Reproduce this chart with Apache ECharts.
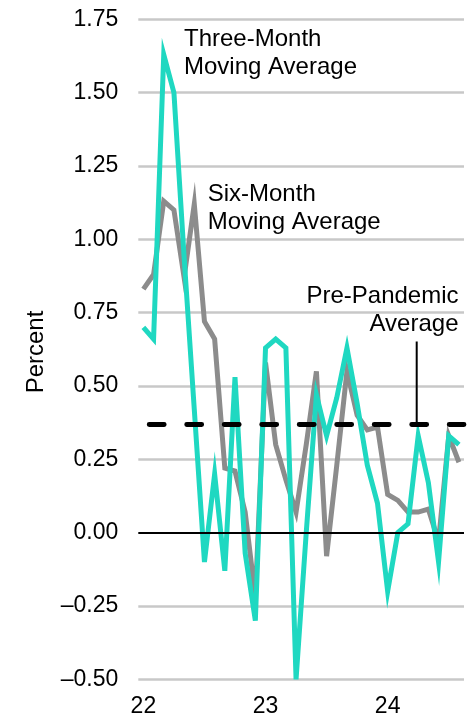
<!DOCTYPE html>
<html>
<head>
<meta charset="utf-8">
<script src="https://cdn.jsdelivr.net/npm/echarts@6/dist/echarts.min.js"></script>
<style>
  html, body { margin: 0; padding: 0; background: #fff; }
  #chart { width: 474px; height: 717px; }
</style>
</head>
<body>
<div id="chart"></div>
<script>
// ---- Data ----
const months = [
  '2022-01','2022-02','2022-03','2022-04','2022-05','2022-06','2022-07','2022-08','2022-09','2022-10','2022-11','2022-12',
  '2023-01','2023-02','2023-03','2023-04','2023-05','2023-06','2023-07','2023-08','2023-09','2023-10','2023-11','2023-12',
  '2024-01','2024-02','2024-03','2024-04','2024-05','2024-06','2024-07','2024-08'
];
const threeMonth = [
  0.70, 0.66, 1.63, 1.50, 0.94, 0.42, -0.10, 0.20, -0.13, 0.53, -0.07, -0.30,
  0.63, 0.66, 0.63, -0.50, 0.00, 0.47, 0.33, 0.46, 0.63, 0.44, 0.23, 0.10,
  -0.20, 0.00, 0.03, 0.33, 0.17, -0.10, 0.33, 0.30
];
const sixMonth = [
  0.83, 0.88, 1.13, 1.10, 0.87, 1.12, 0.72, 0.66, 0.22, 0.21, 0.07, -0.22,
  0.58, 0.30, 0.18, 0.07, 0.30, 0.55, -0.08, 0.23, 0.55, 0.40, 0.35, 0.36,
  0.13, 0.11, 0.07, 0.07, 0.08, -0.03, 0.33, 0.24
];
const prePandemicAvg = 0.37;
const yearLabels = { '2022-01': '22', '2023-01': '23', '2024-01': '24' };
const yTickLabels = ['\u20130.50', '\u20130.25', '0.00', '0.25', '0.50', '0.75', '1.00', '1.25', '1.50', '1.75'];
const yMin = -0.5, yMax = 1.75, yStep = 0.25;

// ---- Style ----
const FONT = 'Liberation Sans, Arial, Helvetica, sans-serif';
const TEAL = '#1fd8c1';
const GREY = '#8c8c8c';

const chart = echarts.init(document.getElementById('chart'), null, { renderer: 'canvas' });

const option = {
  animation: false,
  backgroundColor: '#fff',
  grid: { left: 138.3, right: 10, top: 19.3, bottom: 37.7, containLabel: false, outerBoundsMode: 'none' },
  xAxis: {
    type: 'category',
    data: months,
    boundaryGap: true,
    axisLine: { show: false },
    axisTick: { show: false },
    splitLine: { show: false },
    axisLabel: {
      interval: (i, v) => !!yearLabels[v],
      formatter: v => yearLabels[v] || '',
      color: '#000',
      fontFamily: FONT,
      fontSize: 23,
      margin: 16
    }
  },
  yAxis: {
    type: 'value',
    min: yMin, max: yMax, interval: yStep,
    axisLine: { show: false },
    axisTick: { show: false },
    axisLabel: {
      formatter: v => yTickLabels[Math.round((v - yMin) / yStep)],
      color: '#000',
      fontFamily: FONT,
      fontSize: 23,
      margin: 20
    },
    splitLine: {
      show: true,
      lineStyle: {
        color: ['#c8c8c8', '#c8c8c8', 'rgba(0,0,0,0)', '#c8c8c8', '#c8c8c8', '#c8c8c8', '#c8c8c8', '#c8c8c8', '#c8c8c8', '#c8c8c8'],
        width: 2.5
      }
    }
  },
  series: [
    {
      name: 'zero',
      type: 'line',
      data: [],
      silent: true,
      markLine: {
        silent: true,
        symbol: 'none',
        label: { show: false },
        lineStyle: { color: '#000', width: 1.8, type: 'solid' },
        data: [{ yAxis: 0 }]
      }
    },
    {
      name: 'Six-Month Moving Average',
      type: 'line',
      data: sixMonth,
      symbol: 'none',
      lineStyle: { color: GREY, width: 5, join: 'miter' },
      itemStyle: { color: GREY }
    },
    {
      name: 'Three-Month Moving Average',
      type: 'line',
      data: threeMonth,
      symbol: 'none',
      lineStyle: { color: TEAL, width: 5, join: 'miter' },
      itemStyle: { color: TEAL }
    },
    {
      name: 'Pre-Pandemic Average',
      type: 'line',
      data: [],
      silent: true,
      z: 5,
      markLine: {
        silent: true,
        symbol: 'none',
        label: { show: false },
        lineStyle: { color: '#000', width: 4.8, type: [15, 22.5], dashOffset: 26.6, cap: 'round' },
        data: [{ yAxis: prePandemicAvg }]
      }
    }
  ]
};
chart.setOption(option);

// annotations
const avgY = chart.convertToPixel({ yAxisIndex: 0 }, prePandemicAvg);
const textStyle = (t, align) => ({
  text: t,
  font: '24px ' + FONT,
  fill: '#000',
  textAlign: align,
  textVerticalAlign: 'top',
  lineHeight: 28
});
chart.setOption({
  graphic: [
    { type: 'text', x: 184, y: 25.3, style: textStyle('Three-Month\nMoving Average', 'left'), z: 10 },
    { type: 'text', x: 207.7, y: 180.3, style: textStyle('Six-Month\nMoving Average', 'left'), z: 10 },
    { type: 'text', x: 458.5, y: 282, style: textStyle('Pre-Pandemic\nAverage', 'right'), z: 10 },
    { type: 'line', shape: { x1: 416.7, y1: 341.5, x2: 416.7, y2: avgY }, style: { stroke: '#000', lineWidth: 2 }, z: 10 },
    {
      type: 'text', x: 36, y: 352, rotation: Math.PI / 2,
      style: { text: 'Percent', font: '24px ' + FONT, fill: '#000', textAlign: 'center', textVerticalAlign: 'middle' }
    }
  ]
});
</script>
</body>
</html>
